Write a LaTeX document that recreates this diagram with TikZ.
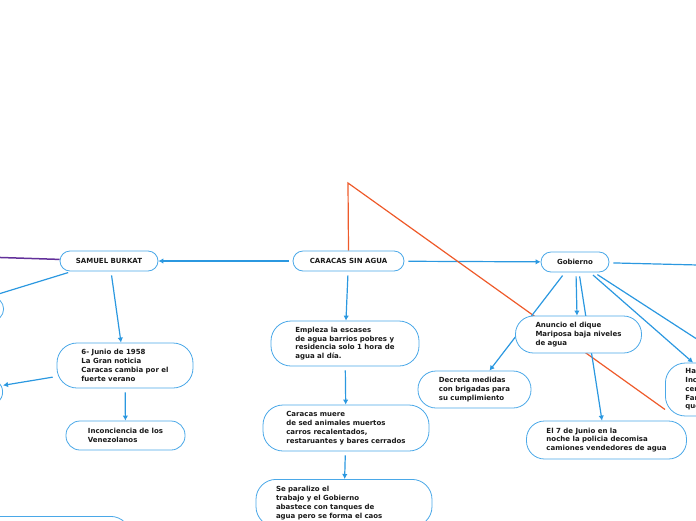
\documentclass[tikz,border=0pt]{standalone}
\usepackage{fontspec}
\setmainfont{DejaVu Sans}
\usepackage{tikz}
\usetikzlibrary{arrows.meta,backgrounds}
\definecolor{boxblue}{HTML}{4AA8E8}
\definecolor{lineblue}{HTML}{2B98E0}
\definecolor{relorange}{HTML}{EE5A2A}
\definecolor{relpurple}{HTML}{62309A}
\definecolor{ink}{HTML}{1A1A1A}
\tikzset{
  topic/.style  = {draw=boxblue, line width=0.8pt, fill=white, rounded corners=10pt,
                   minimum height=20pt, inner sep=0pt, text=ink,
                   font=\fontsize{7}{8.8}\selectfont\bfseries},
  idea/.style   = {draw=boxblue, line width=0.8pt, fill=white, rounded corners=20pt,
                   inner xsep=20pt, inner ysep=5pt, align=left, text=ink,
                   font=\fontsize{7}{8.8}\selectfont\bfseries},
  link/.style   = {draw=lineblue, line width=1.2pt, shorten <=4pt,
                   -{Latex[length=5pt,width=5.5pt]}},
  rel/.style    = {draw=relorange, line width=1.2pt},
  relp/.style   = {draw=relpurple, line width=1.5pt},
}

\begin{document}
\begin{tikzpicture}[x=1pt,y=-1pt]
\useasboundingbox (0,0) rectangle (696,520);
\clip (0,0) rectangle (696,520);
% ---- main topics ----
\node[topic, minimum width=98pt] (samuel) at (109,261) {SAMUEL BURKAT};
\node[topic, minimum width=111pt] (caracas) at (348.5,261) {CARACAS SIN AGUA};
\node[topic, minimum width=68pt] (gob) at (575,262) {Gobierno};
% ---- Samuel Burkat branch ----
\node[idea, minimum width=136pt, minimum height=45pt] (junio) at (125,365.5)
  {6- Junio de 1958\\La Gran noticia\\Caracas cambia por el\\fuerte verano};
\node[idea, minimum width=119pt, minimum height=29pt, rounded corners=14pt] (incon) at (125.5,435.5)
  {Inconciencia de los\\Venezolanos};
\node[idea, anchor=east, minimum width=80pt, minimum height=24pt, rounded corners=12pt] (left1) at (4,309) {};
\node[idea, anchor=east, minimum width=80pt, minimum height=28pt, rounded corners=14pt] (left2) at (3,392) {};
\node[idea, anchor=north east, minimum width=170pt, minimum height=40pt] (left3) at (131,516) {};
% ---- Caracas sin agua branch ----
\node[idea, minimum width=148pt, minimum height=45pt] (empleza) at (345,343.5)
  {Empleza la escases\\de agua barrios pobres y\\residencia solo 1 hora de\\agua al día.};
\node[idea, minimum width=166pt, minimum height=46pt] (muere) at (346,428)
  {Caracas muere\\de sed animales muertos\\carros recalentados,\\restaruantes y bares cerrados};
\node[idea, anchor=north, text width=136pt, inner ysep=7pt] (paraliza) at (344,479)
  {Se paralizo el\\trabajo y el Gobierno\\abastece con tanques de\\agua pero se forma el caos};
% ---- Gobierno branch ----
\node[idea, minimum width=125pt, minimum height=37pt, rounded corners=18pt] (anuncio) at (578.5,334.5)
  {Anuncio el dique\\Mariposa baja niveles\\de agua};
\node[idea, minimum width=113pt, minimum height=37pt, rounded corners=18pt] (decreta) at (474.5,389.5)
  {Decreta medidas\\con brigadas para\\su cumplimiento};
\node[idea, minimum width=159pt, minimum height=38pt, rounded corners=18pt] (junio7) at (606.5,440)
  {El 7 de Junio en la\\noche la policia decomisa\\camiones vendedores de agua};
\node[idea, anchor=west, minimum height=53pt, text width=100pt] (hay) at (665,389.5)
  {Ha\\Inc\\cer\\Far\\que};
\coordinate (purp) at (-30,256.5);
\coordinate (apex) at (348,183);
\coordinate (farright) at (760,266.5);
\coordinate (farse) at (760,380);

\begin{scope}[on background layer]
\clip (0,0) rectangle (696,520);
\draw[link] (caracas) -- (samuel);
\draw[link] (caracas) -- (gob);
\draw[link] (caracas) -- (empleza);
\draw[link] (empleza) -- (muere);
\draw[link] (muere) -- (paraliza);
\draw[link] ([xshift=2pt]samuel.south) -- ([xshift=-4pt]junio.north);
\draw[link] (junio) -- (incon);
\draw[link] ([yshift=-11pt]junio.west) -- (left2);
\draw[link] ([xshift=-37pt]samuel.south) -- ([xshift=-14pt]left1.north east);
\draw[relp] (purp) -- (samuel);
\draw[rel] (caracas.north) -- (apex) -- ([yshift=-20pt]hay.west);
\draw[link] ([xshift=1pt]gob.south) -- ([xshift=-1.5pt]anuncio.north);
\draw[link] ([xshift=4pt]gob.south) -- ([xshift=-4.5pt]junio7.north);
\draw[link] ([xshift=-10pt]gob.south) -- ([xshift=15pt]decreta.north);
\draw[link] ([xshift=15pt]gob.south) -- ([xshift=28pt]hay.north west);
\draw[link] ([xshift=19pt]gob.south) -- (farse);
\draw[link] (gob) -- (farright);
\end{scope}
\end{tikzpicture}
\end{document}
